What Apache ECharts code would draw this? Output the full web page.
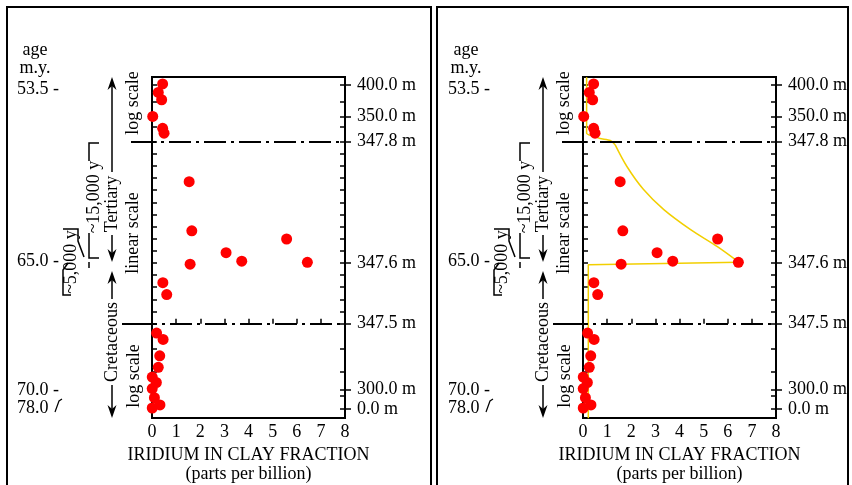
<!DOCTYPE html>
<html>
<head>
<meta charset="utf-8">
<script src="https://cdn.jsdelivr.net/npm/echarts@6/dist/echarts.min.js"></script>
<style>
html, body { margin: 0; padding: 0; background: #fff; }
#main { width: 852px; height: 485px; }
</style>
</head>
<body>
<div id="main"></div>
<script>
// samples: iridium in ppb, level on the column scale
// level 0 = 347.5 m, 1 = 347.6 m, 3 = 347.8 m (linear part), log parts above 3 and below 0
var iridium = [0.44, 0.26, 0.40, 0.03, 0.44, 0.50,
               1.54, 1.65, 1.58, 3.07, 3.72, 5.58, 6.44, 0.45, 0.61,
               0.19, 0.46, 0.32, 0.26, 0.01, 0.18, 0.01, 0.10, 0.33, 0.01];
var level = [3.95, 3.81, 3.69, 3.415, 3.22, 3.14,
             2.34, 1.53, 0.98, 1.17, 1.03, 1.395, 1.01, 0.675, 0.48,
             -0.155, -0.26, -0.53, -0.72, -0.88, -0.97, -1.07, -1.22, -1.34, -1.39];

// fitted curve (right panel only)
var stemIridium = [0.15, 0.15, 0.43, 0.71, 1.13, 1.33];
var stemLevel = [4.06, 3.14, 3.09, 3.05, 3.02, 2.95];
var fitIridium = [1.33, 1.82, 2.51, 3.35, 4.46, 5.57, 6.47];
var fitLevel = [2.95, 2.59, 2.21, 1.88, 1.55, 1.27, 1.01];
var tailIridium = [6.47, 0.22, 0.22];
var tailLevel = [1.01, 0.97, -1.56];

var depthLabels = ['0.0 m', '300.0 m', '347.5 m', '347.6 m', '347.8 m', '350.0 m', '400.0 m'];
var depthLevels = [-1.405, -1.087, 0, 1, 3, 3.415, 3.937];
var minorLevels = [-1.186, -0.79, -0.41, 0.2, 0.4, 0.6, 0.8, 1.2, 1.4, 1.6, 1.8, 2, 2.2, 2.4, 2.6, 2.8, 3.245, 3.657];
var ageLabels = ['53.5 -', '65.0 -', '70.0 -', '78.0'];
var ageLevels = [3.87, 1.02, -1.09, -1.40];

var FONT = "'Liberation Serif', 'Times New Roman', serif";
var FS = 18;
var YMIN = -1.555, YMAX = 4.065;
var panelLeft = [152, 583];

function nearest(list, v) {
  var best = 0;
  for (var i = 1; i < list.length; i++) {
    if (Math.abs(list[i] - v) < Math.abs(list[best] - v)) best = i;
  }
  return best;
}
function pairs(xs, ys) {
  return xs.map(function (x, i) { return [x, ys[i]]; });
}

var chart = echarts.init(document.getElementById('main'));

var grids = [], xAxes = [], yAxes = [];
panelLeft.forEach(function (left, i) {
  grids.push({
    left: left, top: 77, width: 193, height: 341, outerBoundsMode: 'none',
    show: true, borderColor: '#000', borderWidth: 2, backgroundColor: 'transparent'
  });
  xAxes.push({
    gridIndex: i, type: 'value', min: 0, max: 8, interval: 1,
    axisLine: { show: false },
    splitLine: { show: false },
    axisTick: { inside: true, length: 5, lineStyle: { color: '#000', width: 1.5 } },
    axisLabel: { color: '#000', fontSize: FS, fontFamily: FONT, margin: 5 },
    name: 'IRIDIUM IN CLAY FRACTION\n(parts per billion)',
    nameLocation: 'middle', nameGap: 22,
    nameTextStyle: { color: '#000', fontSize: FS, fontFamily: FONT, lineHeight: 19 }
  });
  var inner = depthLevels.concat(minorLevels);
  var base = { gridIndex: i, type: 'value', min: YMIN, max: YMAX,
               axisLine: { show: false }, splitLine: { show: false } };
  // left inner ticks
  yAxes.push(Object.assign({}, base, {
    position: 'left',
    axisTick: { inside: true, length: 5, customValues: inner, lineStyle: { color: '#000', width: 1.5 } },
    axisLabel: { show: false }
  }));
  // right inner ticks
  yAxes.push(Object.assign({}, base, {
    position: 'right',
    axisTick: { inside: true, length: 5, customValues: inner, lineStyle: { color: '#000', width: 1.5 } },
    axisLabel: { show: false }
  }));
  // right labels
  yAxes.push(Object.assign({}, base, {
    position: 'right',
    axisTick: { inside: false, length: 6, customValues: depthLevels, lineStyle: { color: '#000', width: 1.5 } },
    axisLabel: {
      customValues: depthLevels, color: '#000', fontSize: FS, fontFamily: FONT, margin: 12, hideOverlap: false,
      formatter: function (v) { return depthLabels[nearest(depthLevels, v)]; }
    }
  }));
  // age labels on the far left
  yAxes.push(Object.assign({}, base, {
    position: 'left',
    axisTick: { show: false },
    axisLabel: {
      customValues: ageLevels, color: '#000', fontSize: FS, fontFamily: FONT, margin: 135, align: 'left',
      hideOverlap: false,
      formatter: function (v) { return ageLabels[nearest(ageLevels, v)]; }
    }
  }));
});

var points = pairs(iridium, level);
var yellow = { color: '#f2cf00', width: 1.5 };

var option = {
  animation: false,
  textStyle: { fontFamily: FONT },
  grid: grids,
  xAxis: xAxes,
  yAxis: yAxes,
  series: [
    {
      type: 'scatter', xAxisIndex: 0, yAxisIndex: 0, data: points,
      symbolSize: 11, clip: false, itemStyle: { color: '#ff0000', opacity: 1 }, z: 5
    },
    {
      type: 'line', xAxisIndex: 1, yAxisIndex: 4, data: pairs(stemIridium, stemLevel),
      smooth: 0.2, showSymbol: false, lineStyle: yellow, z: 3
    },
    {
      type: 'line', xAxisIndex: 1, yAxisIndex: 4, data: pairs(fitIridium, fitLevel),
      smooth: 0.35, showSymbol: false, lineStyle: yellow, z: 3
    },
    {
      type: 'line', xAxisIndex: 1, yAxisIndex: 4, data: pairs(tailIridium, tailLevel),
      showSymbol: false, lineStyle: yellow, z: 3
    },
    {
      type: 'scatter', xAxisIndex: 1, yAxisIndex: 4, data: points,
      symbolSize: 11, clip: false, itemStyle: { color: '#ff0000', opacity: 1 }, z: 5
    }
  ]
};
chart.setOption(option);

// decorations: frames, dash-dot boundaries, arrows, brackets, rotated captions
var graphics = [];
var ink = { stroke: '#000', lineWidth: 1.5, fill: null };

function line(pts, style) {
  graphics.push({ type: 'polyline', shape: { points: pts }, style: Object.assign({}, ink, style || {}), z: 10 });
}
function head(x, y, dir) {
  graphics.push({ type: 'polygon', z: 10, style: { fill: '#000' },
    shape: { points: [[x, y], [x - 4.5, y + 13 * dir], [x, y + 9 * dir], [x + 4.5, y + 13 * dir]] } });
}
function vtext(txt, x, y) {
  graphics.push({ type: 'text', x: x, y: y, rotation: Math.PI / 2, z: 10,
    style: { text: txt, font: FS + 'px ' + FONT, fill: '#000', align: 'center', verticalAlign: 'middle' } });
}
function htext(txt, x, y) {
  graphics.push({ type: 'text', x: x, y: y, z: 10,
    style: { text: txt, font: FS + 'px ' + FONT, fill: '#000', align: 'center', verticalAlign: 'middle' } });
}

graphics.push({ type: 'rect', shape: { x: 7, y: 7, width: 424, height: 500 }, style: { fill: null, stroke: '#000', lineWidth: 2 } });
graphics.push({ type: 'rect', shape: { x: 437, y: 7, width: 411, height: 500 }, style: { fill: null, stroke: '#000', lineWidth: 2 } });

[0, 431].forEach(function (dx, i) {
  var yIdx = i * 4;
  var y38 = Math.round(chart.convertToPixel({ yAxisIndex: yIdx }, 3));
  var y35 = Math.round(chart.convertToPixel({ yAxisIndex: yIdx }, 0));
  var xr = chart.convertToPixel({ xAxisIndex: i }, 8);
  // boundaries: solid lead-in, then dash-dot across the plot
  line([[131 + dx, y38], [156 + dx, y38]], { lineWidth: 2 });
  line([[161 + dx, y38], [xr, y38]], { lineWidth: 2, lineDash: [3, 5, 22, 5] });
  line([[122 + dx, y35], [157 + dx, y35]], { lineWidth: 2 });
  line([[162 + dx, y35], [xr, y35]], { lineWidth: 2, lineDash: [3, 5, 22, 5] });

  htext('age', 35 + dx, 50);
  htext('m.y.', 35 + dx, 68);

  // slanted mark after 78.0
  line([[55 + dx, 412], [59 + dx, 401], [62 + dx, 399]], { lineWidth: 1.2 });

  // Tertiary arrow
  line([[112 + dx, 80], [112 + dx, 172]]);
  head(112 + dx, 77, 1);
  vtext('Tertiary', 112 + dx, 204);
  line([[112 + dx, 235], [112 + dx, 254]]);
  head(112 + dx, 262, -1);
  // Cretaceous arrow
  head(112 + dx, 271, 1);
  line([[112 + dx, 279], [112 + dx, 299]]);
  vtext('Cretaceous', 112 + dx, 342);
  line([[112 + dx, 385], [112 + dx, 410]]);
  head(112 + dx, 418, -1);

  vtext('log scale', 133 + dx, 103);
  vtext('linear scale', 133 + dx, 233);
  vtext('log scale', 134 + dx, 376);

  // ~15,000 y bracket
  line([[99 + dx, 143], [89 + dx, 143], [89 + dx, 161]]);
  vtext('~15,000 y', 94 + dx, 197);
  line([[89 + dx, 233], [89 + dx, 258], [99 + dx, 258]]);
  line([[89 + dx, 262], [89 + dx, 268]]);
  // ~5,000 y bracket
  line([[63 + dx, 229], [78 + dx, 229], [78 + dx, 241], [84 + dx, 257]]);
  vtext('~5,000 y', 71 + dx, 262);
  line([[68 + dx, 263], [63 + dx, 270], [63 + dx, 295], [71 + dx, 295]]);
});

chart.setOption({ graphic: graphics });
</script>
</body>
</html>
